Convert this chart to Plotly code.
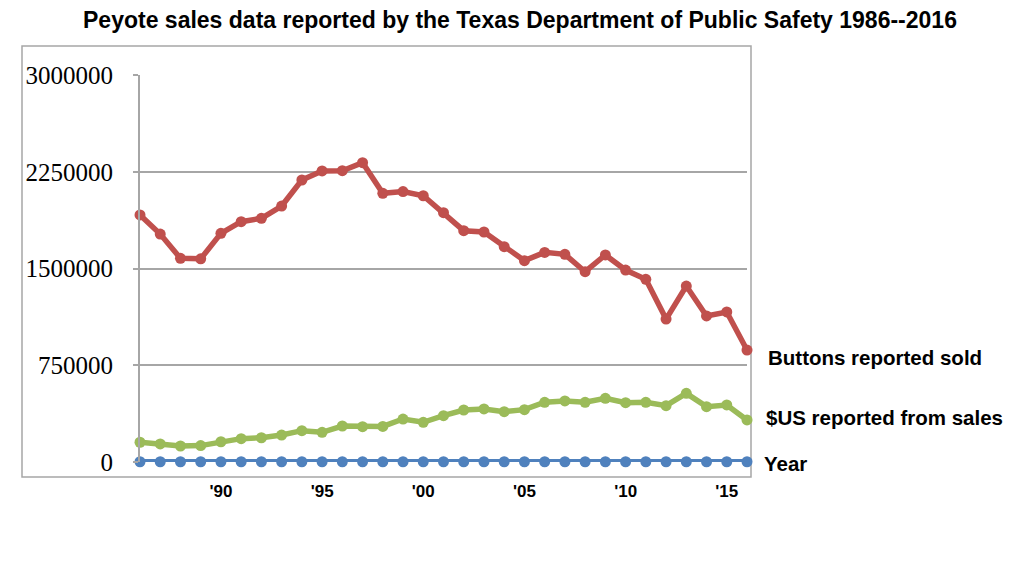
import plotly.graph_objects as go

years = [1986, 1987, 1988, 1989, 1990, 1991, 1992, 1993, 1994, 1995, 1996,
         1997, 1998, 1999, 2000, 2001, 2002, 2003, 2004, 2005, 2006, 2007,
         2008, 2009, 2010, 2011, 2012, 2013, 2014, 2015, 2016]
buttons_sold = [1915000, 1767000, 1579000, 1575000, 1773000, 1863000, 1889000,
                1984000, 2186000, 2256000, 2258000, 2320000, 2083000, 2096000,
                2064000, 1933000, 1793000, 1783000, 1669000, 1561000, 1625000,
                1610000, 1475000, 1605000, 1488000, 1416000, 1108000, 1364000,
                1132000, 1163000, 868000]
usd_sales = [153000, 140000, 124000, 127000, 157000, 181000, 188000, 209000,
             243000, 230000, 279000, 274000, 276000, 333000, 308000, 359000,
             403000, 411000, 390000, 406000, 463000, 473000, 463000, 494000,
             460000, 463000, 437000, 532000, 429000, 442000, 326000]
year_series = years

x_tickvals = [1990, 1995, 2000, 2005, 2010, 2015]
x_ticktext = ["<b>'90</b>", "<b>'95</b>", "<b>'00</b>", "<b>'05</b>",
              "<b>'10</b>", "<b>'15</b>"]
y_tickvals = [0, 750000, 1500000, 2250000, 3000000]
y_ticktext = ["0", "750000", "1500000", "2250000", "3000000"]

series = [
    ("Year", year_series, "#4F81BD"),
    ("$US reported from sales", usd_sales, "#9BBB59"),
    ("Buttons reported sold", buttons_sold, "#C0504D"),
]

fig = go.Figure()
for name, vals, color in series:
    fig.add_trace(go.Scatter(
        x=years, y=vals, name=name, mode="lines+markers",
        line=dict(color=color, width=5.5),
        marker=dict(color=color, size=11),
        cliponaxis=False, showlegend=False,
    ))

W, H = 1024, 562
OFF = 8  # page body margin
# target screen pixels for the plot area
SL, SR, ST, SB = 140, 747, 75, 462
L = SL - OFF
T = ST - OFF
R = W - (SR - OFF)
B = H - (SB - OFF)
pw, ph = W - L - R, H - T - B


def px_x(p):
    return (p - OFF - L) / pw


def px_y(p):
    return (SB - p) / ph


label_font = dict(family="Liberation Sans, Arial", size=20.5, color="black")
for text, xpix, ypix in [("Buttons reported sold", 766, 357),
                         ("$US reported from sales", 764, 417),
                         ("Year", 762, 463)]:
    fig.add_annotation(
        x=px_x(xpix), y=px_y(ypix), xref="paper", yref="paper",
        text="<b>%s</b>" % text, showarrow=False,
        xanchor="left", yanchor="middle", font=label_font,
    )

# outer frame
fig.add_shape(type="rect", xref="paper", yref="paper",
              x0=px_x(22), x1=px_x(751), y0=px_y(477), y1=px_y(46),
              line=dict(color="#a6a6a6", width=1.5), layer="below")

fig.update_layout(
    width=W, height=H,
    margin=dict(l=L, r=R, t=T, b=B),
    paper_bgcolor="white", plot_bgcolor="white",
    title=dict(
        text="<b>Peyote sales data reported by the Texas Department of Public Safety 1986--2016</b>",
        x=(520 - OFF) / W, xref="container", xanchor="center",
        y=1 - (20 - OFF) / H, yref="container", yanchor="middle",
        font=dict(family="Liberation Sans, Arial", size=23, color="black"),
    ),
    xaxis=dict(
        range=[1986, 2016], tickvals=x_tickvals, ticktext=x_ticktext,
        showgrid=False, zeroline=False, showline=False, ticks="",
        tickfont=dict(family="Liberation Sans, Arial", size=17, color="black"),
        ticklabelstandoff=17,
    ),
    yaxis=dict(
        range=[0, 3000000], tickvals=y_tickvals, ticktext=y_ticktext,
        showgrid=True, gridcolor="#a6a6a6", gridwidth=1.5,
        zeroline=False, showline=True, linecolor="#a6a6a6", linewidth=2,
        ticks="outside", ticklen=5, tickcolor="#a6a6a6", tickwidth=1.5,
        tickfont=dict(family="Liberation Serif, Times New Roman", size=25,
                      color="black"),
        ticklabelstandoff=15,
    ),
)

fig.write_html("out.html")
